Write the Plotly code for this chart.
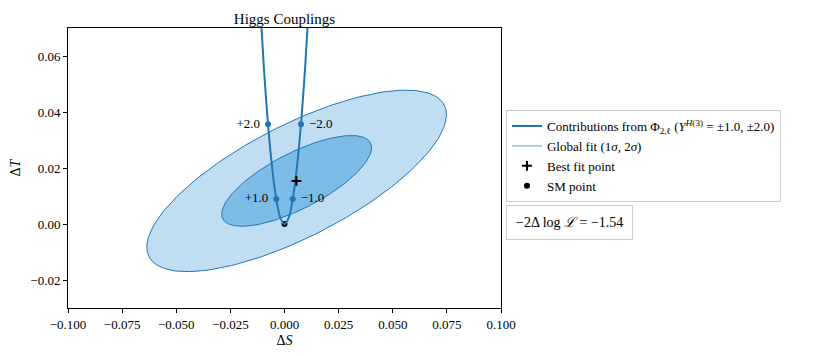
import numpy as np
import plotly.graph_objects as go

# global fit: central values, widths and correlation
fitS, fitT = 0.0056, 0.0154
sigS, sigT = 0.0346, 0.0162
rho = 0.73
sigmaLevels = [2, 1]  # drawn outer first
fillColors = ["#c0ddf2", "#7ebce8"]

# contribution curve, read along the parabola
couplingY = [-3.0, -2.5, -2.0, -1.5, -1.0, -0.5, 0.0, 0.5, 1.0, 1.5, 2.0, 2.5, 3.0]
curveS = [0.0114, 0.0095, 0.0076, 0.0057, 0.0038, 0.0019, 0.0, -0.0019, -0.0038, -0.0057, -0.0076, -0.0095, -0.0114]
curveT = [0.0800, 0.0556, 0.0356, 0.0200, 0.0089, 0.0022, 0.0, 0.0022, 0.0089, 0.0200, 0.0356, 0.0556, 0.0800]

# labelled points
leftY, leftS, leftT = ["+2.0 ", "+1.0 "], [-0.0076, -0.0038], [0.0356, 0.0089]
rightY, rightS, rightT = [" \u22122.0", " \u22121.0"], [0.0076, 0.0038], [0.0356, 0.0089]

bestFit = (0.0055, 0.0154)
smPoint = (0.0, 0.0)
logL = -1.54

C0 = "#1f77b4"
FONT = "Liberation Serif"

fig = go.Figure()

# 1 and 2 sigma ellipses
t = np.linspace(0, 2 * np.pi, 200)
for k, col in zip(sigmaLevels, fillColors):
    xs = fitS + k * sigS * np.cos(t)
    ys = fitT + k * sigT * (rho * np.cos(t) + np.sqrt(1 - rho ** 2) * np.sin(t))
    fig.add_trace(go.Scatter(x=xs, y=ys, mode="lines", fill="toself", fillcolor=col,
                             line=dict(color=C0, width=1), showlegend=False, hoverinfo="skip"))

fig.add_trace(go.Scatter(x=[smPoint[0]], y=[smPoint[1]], mode="markers", name="SM point",
                         marker=dict(color="black", size=6), legendrank=4))
fig.add_trace(go.Scatter(x=curveS, y=curveT, mode="lines", line=dict(color=C0, width=2, shape="spline"),
                         name="Contributions from \u03a6<sub>2,\u2113</sub> (<i>Y</i><sup><i>H</i>(3)</sup> = \u00b11.0, \u00b12.0)",
                         legendrank=1))
fig.add_trace(go.Scatter(x=[None], y=[None], mode="lines", line=dict(color="#8fc2e8", width=1.5),
                         name="Global fit (1<i>\u03c3</i>, 2<i>\u03c3</i>)", legendrank=2))
fig.add_trace(go.Scatter(x=leftS, y=leftT, mode="markers+text", text=leftY, textposition="middle left",
                         marker=dict(color=C0, size=6), showlegend=False,
                         textfont=dict(family=FONT, size=13, color="black")))
fig.add_trace(go.Scatter(x=rightS, y=rightT, mode="markers+text", text=rightY, textposition="middle right",
                         marker=dict(color=C0, size=6), showlegend=False,
                         textfont=dict(family=FONT, size=13, color="black")))
fig.add_trace(go.Scatter(x=[bestFit[0]], y=[bestFit[1]], mode="markers", name="Best fit point",
                         marker=dict(symbol="cross-thin", size=7, line=dict(color="black", width=2)),
                         legendrank=3))

fig.add_annotation(xref="paper", yref="paper", x=1.0115, y=0.368, xanchor="left", yanchor="top",
                   text="\u22122\u0394 log <i>\u2112</i> = %s" % ("%.2f" % logL).replace("-", "\u2212"),
                   showarrow=False, bordercolor="#cccccc", borderwidth=1, borderpad=9, bgcolor="white",
                   font=dict(family=FONT, size=14, color="black"))

axis = dict(showline=True, linecolor="black", linewidth=1, mirror=True, ticks="outside",
            ticklen=4, tickcolor="black", showgrid=False, zeroline=False,
            tickfont=dict(family=FONT, size=13, color="black"))
fig.update_xaxes(range=[-0.1, 0.1], dtick=0.025, tickformat=".3f",
                 title=dict(text="\u0394<i>S</i>", font=dict(family=FONT, size=14), standoff=4), **axis)
fig.update_yaxes(range=[-0.03, 0.07], dtick=0.02, tickformat=".2f",
                 title=dict(text="\u0394<i>T</i>", font=dict(family=FONT, size=14), standoff=8), **axis)

# page body adds an 8px offset, so the figure is 8px smaller than the window
fig.update_layout(
    width=815, height=348,
    margin=dict(l=60, r=322, t=20, b=48, autoexpand=False),
    plot_bgcolor="white", paper_bgcolor="white",
    font=dict(family=FONT, size=13, color="black"),
    title=dict(text="Higgs Couplings", x=0.5, xref="paper", xanchor="center", y=1, yref="paper",
               yanchor="bottom", pad=dict(b=4), font=dict(family=FONT, size=15)),
    legend=dict(x=1.0115, y=0.707, xanchor="left", yanchor="top", bordercolor="#cccccc", borderwidth=1,
                font=dict(family=FONT, size=13), tracegroupgap=0, itemwidth=30),
    hovermode=False,
)

fig.write_html("out.html")
